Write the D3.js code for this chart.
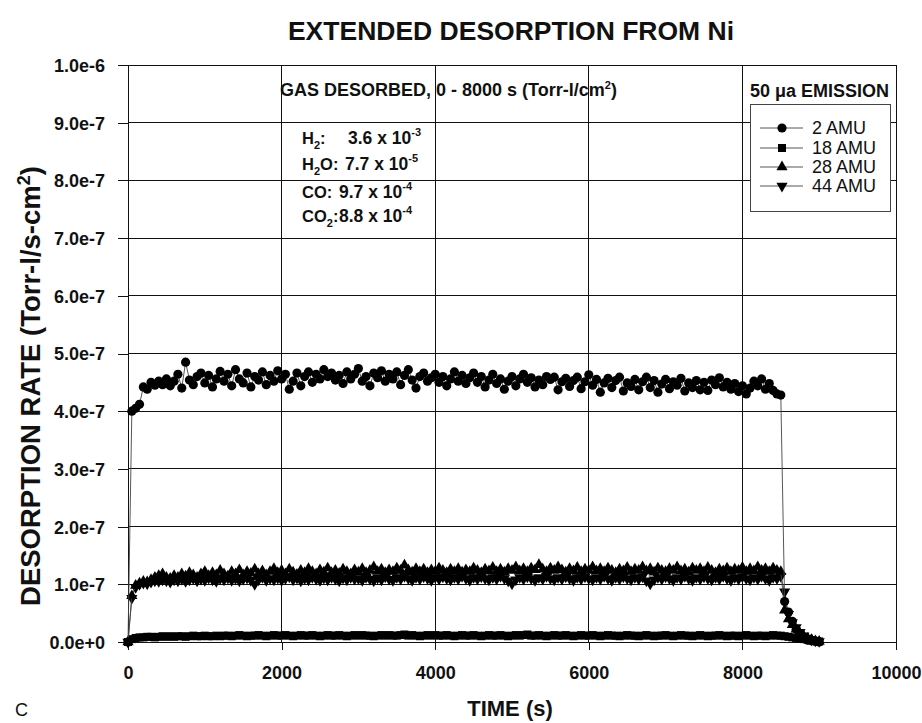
<!DOCTYPE html>
<html><head><meta charset="utf-8">
<script src="https://cdn.jsdelivr.net/npm/d3@7"></script>
<style>
body{margin:0;background:#fff;}
svg{display:block;font-family:"Liberation Sans",Arial,Helvetica,sans-serif;}
</style></head>
<body><div id="chart"></div>
<script>
// ---------- DATA ----------
const UNIT = 1e-7; // series values below are in units of 1e-7 Torr-l/s-cm2
const timeS = [
0,50,100,150,200,250,300,350,400,450,
500,550,600,650,700,750,800,850,900,950,
1000,1050,1100,1150,1200,1250,1300,1350,1400,1450,
1500,1550,1600,1650,1700,1750,1800,1850,1900,1950,
2000,2050,2100,2150,2200,2250,2300,2350,2400,2450,
2500,2550,2600,2650,2700,2750,2800,2850,2900,2950,
3000,3050,3100,3150,3200,3250,3300,3350,3400,3450,
3500,3550,3600,3650,3700,3750,3800,3850,3900,3950,
4000,4050,4100,4150,4200,4250,4300,4350,4400,4450,
4500,4550,4600,4650,4700,4750,4800,4850,4900,4950,
5000,5050,5100,5150,5200,5250,5300,5350,5400,5450,
5500,5550,5600,5650,5700,5750,5800,5850,5900,5950,
6000,6050,6100,6150,6200,6250,6300,6350,6400,6450,
6500,6550,6600,6650,6700,6750,6800,6850,6900,6950,
7000,7050,7100,7150,7200,7250,7300,7350,7400,7450,
7500,7550,7600,7650,7700,7750,7800,7850,7900,7950,
8000,8050,8100,8150,8200,8250,8300,8350,8400,8450,
8500,
8550,8600,8650,8700,8750,8800,8850,8900,8950,9000];

const amu2 = [
0,4.00,4.05,4.12,4.42,4.38,4.50,4.45,4.52,4.46,
4.56,4.44,4.52,4.64,4.40,4.85,4.54,4.46,4.60,4.66,
4.49,4.62,4.42,4.56,4.69,4.52,4.64,4.44,4.72,4.56,
4.49,4.66,4.42,4.60,4.54,4.68,4.46,4.62,4.52,4.70,
4.56,4.64,4.38,4.52,4.66,4.44,4.60,4.68,4.50,4.64,
4.56,4.72,4.60,4.66,4.54,4.62,4.48,4.68,4.56,4.64,
4.74,4.52,4.60,4.44,4.66,4.58,4.70,4.52,4.64,4.56,
4.68,4.46,4.62,4.72,4.54,4.40,4.60,4.66,4.52,4.58,
4.64,4.50,4.60,4.44,4.56,4.68,4.52,4.62,4.48,4.58,
4.66,4.50,4.60,4.42,4.54,4.64,4.48,4.56,4.38,4.52,
4.60,4.44,4.56,4.64,4.50,4.58,4.42,4.54,4.46,4.60,
4.55,4.59,4.37,4.51,4.57,4.43,4.53,4.59,4.39,4.51,
4.63,4.45,4.55,4.33,4.49,4.57,4.41,4.53,4.59,4.35,
4.49,4.43,4.55,4.37,4.51,4.59,4.41,4.53,4.33,4.47,
4.55,4.39,4.51,4.45,4.57,4.35,4.49,4.41,4.53,4.37,
4.50,4.36,4.54,4.46,4.58,4.42,4.50,4.38,4.48,4.34,
4.44,4.30,4.40,4.52,4.44,4.56,4.38,4.48,4.36,4.30,
4.28,
0.70,0.52,0.36,0.22,0.12,0.06,0.03,0.02,0.01,0.00];

const amu18 = [
0,0.05,0.07,0.08,0.08,0.09,0.09,0.08,0.09,0.10,
0.09,0.10,0.09,0.10,0.10,0.09,0.10,0.11,0.10,0.10,
0.11,0.10,0.10,0.11,0.10,0.11,0.11,0.10,0.11,0.12,
0.11,0.10,0.11,0.11,0.12,0.11,0.10,0.11,0.12,0.11,
0.11,0.12,0.11,0.10,0.11,0.12,0.11,0.11,0.12,0.11,
0.10,0.11,0.12,0.11,0.11,0.12,0.11,0.10,0.11,0.12,
0.11,0.12,0.11,0.11,0.10,0.11,0.12,0.11,0.12,0.11,
0.11,0.12,0.13,0.11,0.12,0.11,0.10,0.11,0.12,0.11,
0.12,0.11,0.11,0.12,0.11,0.10,0.11,0.12,0.11,0.11,
0.12,0.11,0.10,0.11,0.12,0.11,0.11,0.12,0.11,0.10,
0.11,0.12,0.11,0.12,0.13,0.11,0.11,0.12,0.11,0.10,
0.11,0.12,0.11,0.11,0.12,0.11,0.10,0.11,0.12,0.11,
0.11,0.12,0.11,0.10,0.11,0.12,0.11,0.11,0.10,0.11,
0.12,0.11,0.11,0.10,0.11,0.12,0.11,0.10,0.11,0.11,
0.12,0.11,0.10,0.11,0.12,0.11,0.11,0.10,0.11,0.12,
0.11,0.10,0.11,0.11,0.12,0.11,0.10,0.11,0.11,0.10,
0.11,0.12,0.11,0.10,0.11,0.11,0.10,0.11,0.12,0.11,
0.11,
0.10,0.09,0.08,0.07,0.06,0.05,0.04,0.03,0.02,0.01];

const amu28 = [
0,0.80,0.98,1.02,1.05,1.04,1.08,1.12,1.15,1.18,
1.12,1.10,1.15,1.12,1.18,1.14,1.20,1.16,1.12,1.18,
1.22,1.15,1.20,1.16,1.24,1.18,1.14,1.22,1.18,1.25,
1.16,1.22,1.19,1.26,1.18,1.23,1.16,1.22,1.27,1.20,
1.24,1.18,1.26,1.21,1.17,1.24,1.20,1.27,1.22,1.18,
1.25,1.21,1.28,1.20,1.24,1.19,1.26,1.22,1.18,1.25,
1.21,1.27,1.20,1.24,1.30,1.22,1.26,1.20,1.25,1.22,
1.28,1.24,1.33,1.25,1.21,1.27,1.22,1.26,1.20,1.25,
1.22,1.28,1.24,1.20,1.26,1.22,1.27,1.21,1.25,1.22,
1.28,1.24,1.20,1.26,1.23,1.29,1.22,1.26,1.21,1.27,
1.24,1.30,1.23,1.27,1.22,1.28,1.25,1.34,1.26,1.22,
1.28,1.24,1.30,1.25,1.21,1.27,1.23,1.29,1.22,1.26,
1.24,1.30,1.23,1.27,1.22,1.28,1.24,1.20,1.26,1.23,
1.29,1.22,1.26,1.24,1.30,1.23,1.27,1.21,1.28,1.24,
1.22,1.27,1.24,1.30,1.23,1.26,1.21,1.28,1.24,1.27,
1.22,1.29,1.24,1.20,1.26,1.23,1.28,1.22,1.26,1.24,
1.29,1.22,1.27,1.23,1.30,1.24,1.27,1.22,1.28,1.24,
1.22,
0.55,0.40,0.30,0.22,0.15,0.10,0.06,0.04,0.02,0.01];

const amu44 = [
0,0.76,0.95,1.00,1.02,1.01,1.04,1.06,1.05,1.08,
1.06,1.04,1.08,1.06,1.09,1.05,1.08,1.10,1.06,1.09,
1.07,1.11,1.08,1.05,1.10,1.08,1.11,1.07,1.10,1.06,
1.09,1.11,1.07,1.00,1.08,1.12,1.07,1.10,1.08,1.11,
1.07,1.10,1.13,1.08,1.11,1.06,1.10,1.08,1.12,1.09,
1.07,1.11,1.08,1.12,1.09,1.06,1.11,1.08,1.12,1.09,
1.10,1.07,1.12,1.09,1.06,1.11,1.08,1.13,1.09,1.07,
1.12,1.09,1.14,1.10,1.07,1.12,1.09,1.13,1.10,1.07,
1.12,1.09,1.13,1.10,1.08,1.12,1.09,1.14,1.10,1.07,
1.12,1.09,1.13,1.10,1.08,1.12,1.09,1.14,1.10,1.06,
1.01,1.08,1.12,1.09,1.13,1.10,1.07,1.12,1.09,1.14,
1.10,1.08,1.12,1.09,1.13,1.10,1.07,1.12,1.09,1.13,
1.10,1.08,1.12,1.09,1.14,1.10,1.07,1.12,1.09,1.13,
1.10,1.08,1.12,1.09,1.13,1.06,1.01,1.08,1.12,1.09,
1.13,1.10,1.07,1.12,1.09,1.14,1.10,1.07,1.12,1.09,
1.13,1.10,1.08,1.12,1.09,1.14,1.10,1.07,1.12,1.09,
1.13,1.10,1.08,1.12,1.09,1.14,1.10,1.07,1.12,1.10,
1.14,
0.87,0.48,0.34,0.25,0.17,0.11,0.07,0.04,0.02,0.01];

const seriesNames = ["2 AMU", "18 AMU", "28 AMU", "44 AMU"];
const seriesValues = [amu2, amu18, amu28, amu44];
const seriesMarkers = ["circle", "square", "triangleUp", "triangleDown"];

const xTickValues = [0, 2000, 4000, 6000, 8000, 10000];
const yTickValues = [0, 1e-7, 2e-7, 3e-7, 4e-7, 5e-7, 6e-7, 7e-7, 8e-7, 9e-7, 1e-6];

const titleText = "EXTENDED DESORPTION FROM Ni";
const xTitle = "TIME (s)";
const gasHeader = "GAS DESORBED, 0 - 8000 s (Torr-l/cm";
const gasRows = [
  {label: [["H",""],["2","sub"],[":",""]], value: "3.6 x 10", exp: "-3", vx: 348},
  {label: [["H",""],["2","sub"],["O:",""]], value: "7.7 x 10", exp: "-5", vx: 345},
  {label: [["CO:",""]], value: "9.7 x 10", exp: "-4", vx: 339},
  {label: [["CO",""],["2","sub"],[":",""]], value: "8.8 x 10", exp: "-4", vx: 339}
];
const legendTitle = "50 \u03bca EMISSION";

// ---------- DRAW ----------
const W = 922, H = 723;
const svg = d3.select("#chart").append("svg").attr("width", W).attr("height", H);
const x = d3.scaleLinear().domain([0, 10000]).range([128, 896]);
const y = d3.scaleLinear().domain([0, 1e-6]).range([642, 65]);

// grid
const grid = svg.append("g").attr("stroke", "#111").attr("stroke-width", 1).attr("shape-rendering", "crispEdges");
grid.selectAll(".hg").data(yTickValues.slice(1)).join("line")
  .attr("x1", x(0)).attr("x2", x(10000)).attr("y1", d => y(d)).attr("y2", d => y(d));
grid.selectAll(".vg").data(xTickValues.slice(1)).join("line")
  .attr("y1", y(0)).attr("y2", y(1e-6)).attr("x1", d => x(d)).attr("x2", d => x(d));

// axes
const fmt = d3.format(".1e");
const yAxis = svg.append("g").attr("transform", `translate(${x(0)},0)`)
  .call(d3.axisLeft(y).tickValues(yTickValues).tickSize(10).tickPadding(13).tickFormat(d => fmt(d)));
const xAxis = svg.append("g").attr("transform", `translate(0,${y(0)})`)
  .call(d3.axisBottom(x).tickValues(xTickValues).tickSize(8).tickPadding(16).tickFormat(d3.format("d")));
[yAxis, xAxis].forEach(a => {
  a.selectAll("path.domain").attr("stroke", "#111").attr("shape-rendering", "crispEdges");
  a.selectAll(".tick line").attr("stroke", "#111").attr("shape-rendering", "crispEdges");
  a.selectAll("text").attr("font-size", 18).attr("font-weight", "bold").attr("fill", "#111")
    .attr("font-family", '"Liberation Sans",Arial,sans-serif');
});
yAxis.selectAll("text").attr("dy", "0.36em");
xAxis.selectAll("text").attr("dy", "0.71em");

// symbols
const sym = {
  circle: d3.symbol().type(d3.symbolCircle).size(Math.PI * 4.6 * 4.6),
  square: d3.symbol().type(d3.symbolSquare).size(64),
  triangleUp: d3.symbol().type(d3.symbolTriangle).size(54),
  triangleDown: d3.symbol().type(d3.symbolTriangle).size(54)
};
function drawMarker(g, type, cx, cy) {
  const rot = type === "triangleDown" ? " rotate(180)" : "";
  g.append("path").attr("d", sym[type]()).attr("transform", `translate(${cx},${cy})${rot}`).attr("fill", "#000");
}

const line = d3.line().x(d => x(d[0])).y(d => y(d[1] * UNIT));
const drawOrder = [1, 3, 2, 0];
drawOrder.forEach(i => {
  const pts = timeS.map((t, k) => [t, seriesValues[i][k]]);
  const g = svg.append("g");
  g.append("path").attr("d", line(pts)).attr("fill", "none").attr("stroke", "#444").attr("stroke-width", 0.9);
  pts.forEach(p => drawMarker(g, seriesMarkers[i], x(p[0]), y(p[1] * UNIT)));
});

// titles
svg.append("text").attr("x", 511).attr("y", 40).attr("text-anchor", "middle")
  .attr("font-size", 26.5).attr("font-weight", "bold").attr("fill", "#111").text(titleText);
svg.append("text").attr("x", 510).attr("y", 716).attr("text-anchor", "middle")
  .attr("font-size", 22).attr("font-weight", "bold").attr("fill", "#111").text(xTitle);
const yt = svg.append("text").attr("transform", "translate(40,386) rotate(-90)").attr("text-anchor", "middle")
  .attr("font-size", 27.5).attr("font-weight", "bold").attr("fill", "#111");
yt.append("tspan").text("DESORPTION RATE (Torr-l/s-cm");
yt.append("tspan").attr("dy", -10).attr("font-size", 18).text("2");
yt.append("tspan").attr("dy", 10).text(")");
svg.append("text").attr("x", 15).attr("y", 716).attr("font-size", 18).attr("fill", "#111").text("C");

// gas desorbed annotation
const hdr = svg.append("text").attr("x", 280).attr("y", 96).attr("font-size", 18).attr("font-weight", "bold").attr("fill", "#111");
hdr.append("tspan").text(gasHeader);
hdr.append("tspan").attr("dy", -7).attr("font-size", 11).text("2");
hdr.append("tspan").attr("dy", 7).text(")");

const rowY = [144, 170, 198, 222];
gasRows.forEach((r, i) => {
  const t = svg.append("text").attr("x", 302).attr("y", rowY[i]).attr("font-size", 16.5).attr("font-weight", "bold").attr("fill", "#111");
  let shift = 0;
  r.label.forEach(([s, m]) => {
    const target = m === "sub" ? 5 : 0;
    const ts = t.append("tspan").text(s);
    if (target !== shift) ts.attr("dy", target - shift);
    if (m === "sub") ts.attr("font-size", 11);
    shift = target;
  });
  const v = svg.append("text").attr("x", r.vx).attr("y", rowY[i]).attr("font-size", 17.5).attr("font-weight", "bold").attr("fill", "#111");
  v.append("tspan").text(r.value);
  v.append("tspan").attr("dy", -8).attr("font-size", 11).text(r.exp);
});

// legend
svg.append("text").attr("x", 750).attr("y", 97).attr("font-size", 18).attr("font-weight", "bold").attr("fill", "#111").text(legendTitle);
svg.append("rect").attr("x", 750.5).attr("y", 104.5).attr("width", 140).attr("height", 107)
  .attr("fill", "#fff").attr("stroke", "#444").attr("stroke-width", 1);
const legY = [128, 148, 167, 186];
seriesNames.forEach((n, i) => {
  const g = svg.append("g");
  g.append("line").attr("x1", 760).attr("x2", 803).attr("y1", legY[i]).attr("y2", legY[i]).attr("stroke", "#444").attr("stroke-width", 0.9);
  drawMarker(g, seriesMarkers[i], 782, legY[i]);
  g.append("text").attr("x", 812).attr("y", legY[i]).attr("dy", "0.36em").attr("font-size", 18).attr("fill", "#111").text(n);
});
</script></body></html>
